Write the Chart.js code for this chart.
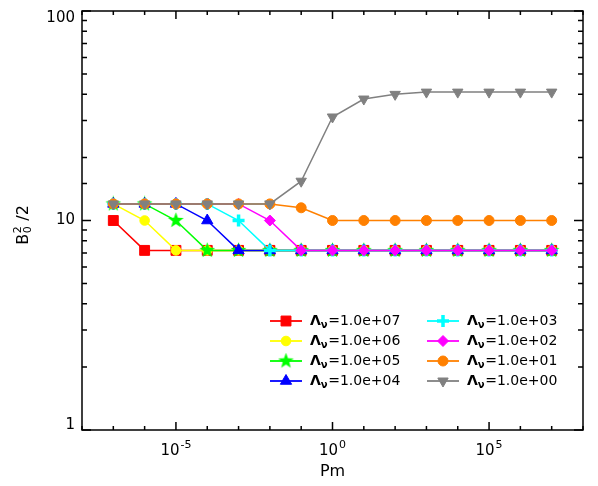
<!DOCTYPE html>
<html>
<head>
<meta charset="utf-8">
<script src="https://cdn.jsdelivr.net/npm/chart.js@4/dist/chart.umd.min.js"></script>
<style>
  body { margin: 0; background: #fff; }
  #wrap { width: 598px; height: 486px; }
</style>
</head>
<body>
<div id="wrap"><canvas id="chart"></canvas></div>
<script>
// Pm values (x), one point per decade
const pm = [1e-7, 1e-6, 1e-5, 1e-4, 1e-3, 1e-2, 1e-1, 1e0, 1e1, 1e2, 1e3, 1e4, 1e5, 1e6, 1e7];

// B0^2/2 for each Lambda_nu
const lam1e7 = [10.0, 7.2, 7.2, 7.2, 7.2, 7.2, 7.2, 7.2, 7.2, 7.2, 7.2, 7.2, 7.2, 7.2, 7.2];
const lam1e6 = [12.0, 10.0, 7.2, 7.2, 7.2, 7.2, 7.2, 7.2, 7.2, 7.2, 7.2, 7.2, 7.2, 7.2, 7.2];
const lam1e5 = [12.0, 12.0, 10.0, 7.2, 7.2, 7.2, 7.2, 7.2, 7.2, 7.2, 7.2, 7.2, 7.2, 7.2, 7.2];
const lam1e4 = [12.0, 12.0, 12.0, 10.0, 7.2, 7.2, 7.2, 7.2, 7.2, 7.2, 7.2, 7.2, 7.2, 7.2, 7.2];
const lam1e3 = [12.0, 12.0, 12.0, 12.0, 10.0, 7.2, 7.2, 7.2, 7.2, 7.2, 7.2, 7.2, 7.2, 7.2, 7.2];
const lam1e2 = [12.0, 12.0, 12.0, 12.0, 12.0, 10.0, 7.2, 7.2, 7.2, 7.2, 7.2, 7.2, 7.2, 7.2, 7.2];
const lam1e1 = [12.0, 12.0, 12.0, 12.0, 12.0, 12.0, 11.5, 10.0, 10.0, 10.0, 10.0, 10.0, 10.0, 10.0, 10.0];
const lam1e0 = [12.0, 12.0, 12.0, 12.0, 12.0, 12.0, 15.4, 31.2, 38.0, 40.0, 41.0, 41.0, 41.0, 41.0, 41.0];

const seriesValues = [lam1e7, lam1e6, lam1e5, lam1e4, lam1e3, lam1e2, lam1e1, lam1e0];
const seriesLabels = ['1.0e+07', '1.0e+06', '1.0e+05', '1.0e+04', '1.0e+03', '1.0e+02', '1.0e+01', '1.0e+00'];
const seriesColors = ['#ff0000', '#ffff00', '#00ff00', '#0000ff', '#00ffff', '#ff00ff', '#ff8000', '#808080'];

// axis ticks
const xTickExps = [-8, -7, -6, -5, -4, -3, -2, -1, 0, 1, 2, 3, 4, 5, 6, 7, 8];
const xLabelExps = [-5, 0, 5];
const xLabelSup = ['-5', '0', '5'];
const yLabelValues = [1, 10, 100];

const FONT = "'DejaVu Sans', sans-serif";

// filled five point star for the green series
const starImg = (() => {
  const c = document.createElement('canvas');
  c.width = 17; c.height = 17;
  const g = c.getContext('2d');
  g.fillStyle = '#00ff00';
  g.beginPath();
  for (let k = 0; k < 10; k++) {
    const r = k % 2 === 0 ? 8.2 : 3.4;
    const a = -Math.PI / 2 + k * Math.PI / 5;
    g.lineTo(8.5 + r * Math.cos(a), 8.5 + r * Math.sin(a));
  }
  g.closePath();
  g.fill();
  return c;
})();

const markers = [
  { pointStyle: 'rect', radius: 7, rotation: 0, borderWidth: 1 },
  { pointStyle: 'circle', radius: 4.8, rotation: 0, borderWidth: 1 },
  { pointStyle: starImg, radius: 8, rotation: 0, borderWidth: 1 },
  { pointStyle: 'triangle', radius: 6.5, rotation: 0, borderWidth: 1 },
  { pointStyle: 'cross', radius: 6, rotation: 0, borderWidth: 3.5 },
  { pointStyle: 'rectRot', radius: 5.5, rotation: 0, borderWidth: 1 },
  { pointStyle: 'circle', radius: 5, rotation: 0, borderWidth: 1 },
  { pointStyle: 'triangle', radius: 6, rotation: 180, borderWidth: 1 }
];

const datasets = seriesValues.map((vals, i) => ({
  label: 'Λν=' + seriesLabels[i],
  data: pm.map((x, j) => ({ x: x, y: vals[j] })),
  borderColor: seriesColors[i],
  backgroundColor: seriesColors[i],
  borderWidth: 1.5,
  pointStyle: markers[i].pointStyle,
  pointRadius: markers[i].radius,
  pointRotation: markers[i].rotation,
  pointBorderWidth: markers[i].borderWidth,
  pointBorderColor: seriesColors[i],
  pointBackgroundColor: seriesColors[i],
  tension: 0,
  order: 7 - i
}));

// box, inward ticks on all four sides, tick labels
const frame = {
  id: 'frame',
  afterDraw(chart) {
    const { ctx, chartArea: a } = chart;
    const xs = chart.scales.x, ys = chart.scales.y;
    ctx.save();
    ctx.strokeStyle = '#000';
    ctx.lineWidth = 1.5;
    ctx.strokeRect(a.left, a.top, a.right - a.left, a.bottom - a.top);
    ctx.beginPath();
    xTickExps.forEach(e => {
      const px = xs.getPixelForValue(Math.pow(10, e));
      const len = xLabelExps.includes(e) ? 8 : 4;
      ctx.moveTo(px, a.bottom); ctx.lineTo(px, a.bottom - len);
      ctx.moveTo(px, a.top); ctx.lineTo(px, a.top + len);
    });
    ys.ticks.forEach(t => {
      const py = ys.getPixelForValue(t.value);
      const len = yLabelValues.includes(t.value) ? 9 : 5;
      ctx.moveTo(a.left, py); ctx.lineTo(a.left + len, py);
      ctx.moveTo(a.right, py); ctx.lineTo(a.right - len, py);
    });
    ctx.stroke();

    // x labels: 10 with raised exponent
    ctx.fillStyle = '#000';
    ctx.textBaseline = 'alphabetic';
    ctx.textAlign = 'left';
    const big = '15px ' + FONT, sup = '11px ' + FONT;
    xLabelExps.forEach((e, k) => {
      const px = xs.getPixelForValue(Math.pow(10, e));
      ctx.font = big; const wb = ctx.measureText('10').width;
      ctx.font = sup; const ws = ctx.measureText(xLabelSup[k]).width;
      const x0 = px - (wb + ws + 1) / 2;
      const base = a.bottom + 25;
      ctx.font = big; ctx.fillText('10', x0, base);
      ctx.font = sup; ctx.fillText(xLabelSup[k], x0 + wb + 1, base - 7);
    });

    // y labels, kept inside the axis range
    ctx.font = big;
    ctx.textAlign = 'right';
    ctx.textBaseline = 'middle';
    yLabelValues.forEach(v => {
      const py = Math.min(Math.max(ys.getPixelForValue(v), a.top + 7), a.bottom - 5);
      ctx.fillText(String(v), a.left - 7, py);
    });
    ctx.restore();
  }
};

// y title with stacked sub/superscript, and the two column legend
const extras = {
  id: 'extras',
  afterDraw(chart) {
    const { ctx, chartArea: a } = chart;
    ctx.save();
    // y title "B0^2 /2"
    ctx.fillStyle = '#000';
    ctx.textBaseline = 'alphabetic';
    ctx.translate(28, (a.top + a.bottom) / 2 + 5);
    ctx.rotate(-Math.PI / 2);
    const big = '16px ' + FONT, small = '11px ' + FONT;
    ctx.font = big; const wB = ctx.measureText('B').width;
    ctx.font = small; const wS = ctx.measureText('2').width;
    ctx.font = big; const wT = ctx.measureText(' /2').width;
    let x0 = -(wB + wS + wT) / 2;
    ctx.font = big; ctx.fillText('B', x0, 0);
    ctx.font = small;
    ctx.fillText('2', x0 + wB + 0.5, -7);
    ctx.fillText('0', x0 + wB + 0.5, 3);
    ctx.font = big; ctx.fillText(' /2', x0 + wB + wS + 1, 0);
    ctx.restore();

    // legend
    ctx.save();
    const colX = [a.left + 188, a.left + 345];
    const rowY0 = a.top + 310, rowH = 20;
    chart.data.datasets.forEach((ds, i) => {
      const lx = colX[i < 4 ? 0 : 1];
      const ly = rowY0 + (i % 4) * rowH;
      ctx.strokeStyle = ds.borderColor;
      ctx.lineWidth = 1.8;
      ctx.beginPath();
      ctx.moveTo(lx, ly); ctx.lineTo(lx + 32, ly);
      ctx.stroke();
      ctx.fillStyle = ds.backgroundColor;
      ctx.strokeStyle = ds.borderColor;
      ctx.lineWidth = markers[i].borderWidth;
      Chart.helpers.drawPoint(ctx, {
        pointStyle: markers[i].pointStyle,
        radius: markers[i].radius,
        rotation: markers[i].rotation,
        borderWidth: markers[i].borderWidth
      }, lx + 16, ly);
      ctx.fillStyle = '#000';
      ctx.textBaseline = 'middle';
      let tx = lx + 40;
      ctx.font = 'bold 14px ' + FONT;
      ctx.fillText('Λ', tx, ly);
      tx += ctx.measureText('Λ').width;
      ctx.font = 'bold 10px ' + FONT;
      ctx.fillText('ν', tx, ly + 4);
      tx += ctx.measureText('ν').width + 0.5;
      ctx.font = '14px ' + FONT;
      ctx.fillText('=' + seriesLabels[i], tx, ly);
    });
    ctx.restore();
  }
};

new Chart(document.getElementById('chart'), {
  type: 'line',
  data: { datasets },
  options: {
    responsive: true,
    maintainAspectRatio: false,
    animation: false,
    layout: { padding: { top: 11, right: 15, left: 0, bottom: 0 } },
    plugins: { legend: { display: false }, tooltip: { enabled: false } },
    scales: {
      x: {
        type: 'logarithmic',
        min: 1e-8,
        max: 1e8,
        afterBuildTicks: s => { s.ticks = xTickExps.map(e => ({ value: Math.pow(10, e) })); },
        afterFit: s => { s.height = 56; s.paddingLeft = 0; s.paddingRight = 0; },
        grid: { display: false, drawTicks: false },
        border: { display: false },
        ticks: { display: false },
        title: {
          display: true,
          text: 'Pm',
          color: '#000',
          font: { family: FONT, size: 16 },
          padding: { top: 0, bottom: 5 }
        }
      },
      y: {
        type: 'logarithmic',
        min: 1,
        max: 100,
        afterFit: s => { s.width = 82; s.paddingTop = 0; s.paddingBottom = 0; },
        grid: { display: false, drawTicks: false },
        border: { display: false },
        ticks: { display: false }
      }
    }
  },
  plugins: [frame, extras]
});
</script>
</body>
</html>
